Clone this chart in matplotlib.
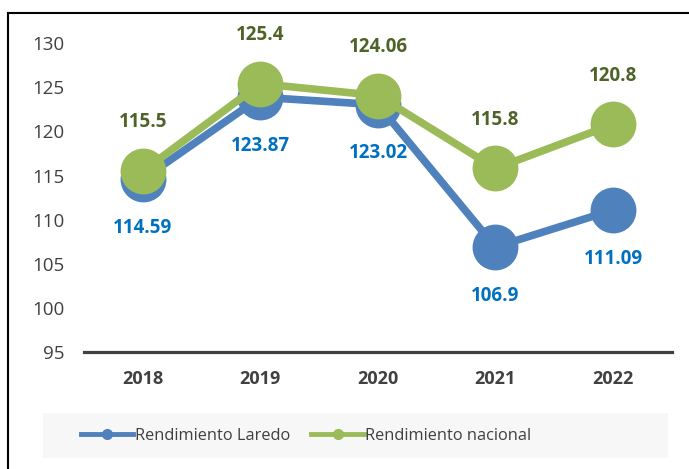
import matplotlib
matplotlib.use("Agg")
import matplotlib.pyplot as plt
from matplotlib.lines import Line2D
from matplotlib.patches import Rectangle

plt.rcParams["font.family"] = ["Open Sans", "DejaVu Sans"]

years = ["2018", "2019", "2020", "2021", "2022"]
laredo = [114.59, 123.87, 123.02, 106.9, 111.09]
nacional = [115.5, 125.4, 124.06, 115.8, 120.8]
laredo_labels = ["114.59", "123.87", "123.02", "106.9", "111.09"]
nacional_labels = ["115.5", "125.4", "124.06", "115.8", "120.8"]

blue = "#4f81bd"
green = "#9bbb59"
blue_text = "#0070c0"
green_text = "#4f6228"
dark = "#404040"

fig = plt.figure(figsize=(6.89, 4.69), dpi=100)
ax = fig.add_axes([0.122, 0.2495, 0.853, 0.6585])

x = list(range(len(years)))
ax.plot(x, laredo, color=blue, lw=5.5, marker="o", ms=32, clip_on=False, zorder=3)
ax.plot(x, nacional, color=green, lw=5.5, marker="o", ms=32, clip_on=False, zorder=4)

for i in x:
    ax.annotate(laredo_labels[i], (i, laredo[i]), xytext=(0, -35), textcoords="offset points",
                ha="center", va="center", fontsize=13.5, fontweight="bold", color=blue_text)
    ax.annotate(nacional_labels[i], (i, nacional[i]), xytext=(0, 35), textcoords="offset points",
                ha="center", va="center", fontsize=13.5, fontweight="bold", color=green_text)

ax.set_xlim(-0.5, len(years) - 0.5)
ax.set_ylim(95, 130)
ax.set_yticks(range(95, 131, 5))
ax.set_xticks(x)
ax.set_xticklabels(years, fontweight="bold")
ax.tick_params(axis="y", length=0, pad=14, labelsize=13.5, labelcolor=dark)
ax.tick_params(axis="x", length=0, pad=13, labelsize=13, labelcolor=dark)
for side in ["top", "right", "left"]:
    ax.spines[side].set_visible(False)
ax.spines["bottom"].set_color(dark)
ax.spines["bottom"].set_linewidth(2.3)

# legend background and outer frame
fig.add_artist(Rectangle((43 / 689, 1 - 458 / 469), 625 / 689, 45 / 469,
                         transform=fig.transFigure, facecolor="#f7f7f7", edgecolor="none", zorder=0))
fig.add_artist(Line2D([8 / 689, 1], [1 - 13 / 469] * 2, transform=fig.transFigure, color="black", lw=1.5))
fig.add_artist(Line2D([8 / 689] * 2, [0, 1 - 13 / 469], transform=fig.transFigure, color="black", lw=1.5))

handles = [
    Line2D([], [], color=blue, lw=3.5, marker="o", ms=7),
    Line2D([], [], color=green, lw=3.5, marker="o", ms=7),
]
fig.legend(handles, ["Rendimiento Laredo", "Rendimiento nacional"], loc="center left",
           bbox_to_anchor=(66 / 689, 1 - 436 / 469), ncol=2, frameon=False, fontsize=11.8,
           handlelength=3.2, handletextpad=0.1, columnspacing=1.3, labelcolor=dark)

fig.savefig("out.png", dpi=100)
